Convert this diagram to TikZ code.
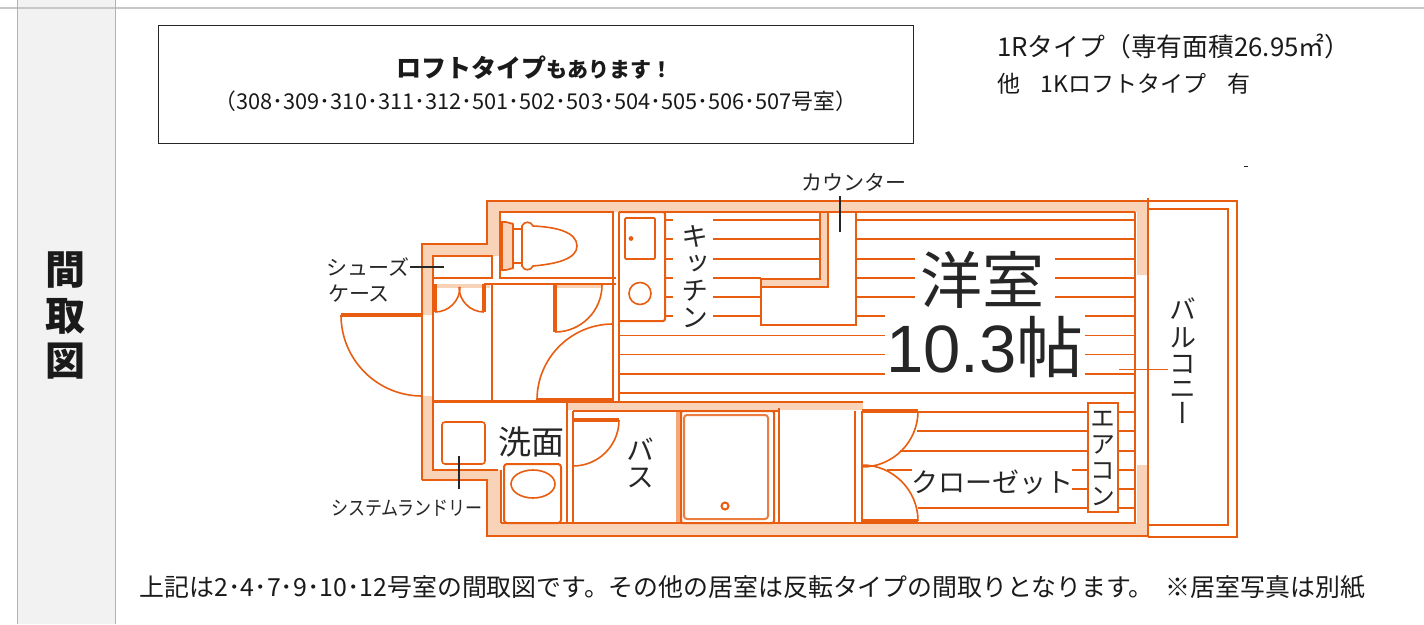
\documentclass[tikz,border=0pt]{standalone}
\usepackage{fontspec}
\setmainfont{Noto Sans CJK JP}
\newfontfamily\jpv[RawFeature={+vert}]{Noto Sans CJK JP}
\newfontfamily\latin{Liberation Sans}
\definecolor{wallc}{HTML}{E85D0F}
\definecolor{lightc}{HTML}{F9D3B8}
\definecolor{midc}{HTML}{F4A878}
\definecolor{ink}{HTML}{262626}
\definecolor{lab}{HTML}{1A1A1A}
\newcommand{\fs}[1]{\fontsize{#1pt}{#1pt}\selectfont}
\tikzset{
  thin line/.style={draw=wallc,line width=1.6pt},
  wall line/.style={draw=wallc,line width=2pt},
  thick line/.style={draw=wallc,line width=3.2pt},
  wall fill/.style={fill=lightc,draw=none},
  leader/.style={draw=ink,line width=1.1pt},
  txt/.style={inner sep=0pt,text=lab,anchor=base west},
  ctxt/.style={inner sep=0pt,text=lab,anchor=center},
  plan label/.style={inner sep=0pt,text=ink,anchor=center}
}
\begin{document}
\begin{tikzpicture}[x=1pt,y=-1pt]
\useasboundingbox (0,0) rectangle (1424,624);
% page frame
\fill[white] (0,0) rectangle (1424,624);
\fill[black!5] (17,0) rectangle (115,624);
\draw[black!22,line width=1.2pt] (0,8) -- (1424,8);
\draw[black!30,line width=1pt] (17,0) -- (17,624) (115,0) -- (115,624);
\node[ctxt,font=\bfseries\fs{40}] (t1) at (65,270) {間};
\node[ctxt,font=\bfseries\fs{40}] (t2) at (65,316) {取};
\node[ctxt,font=\bfseries\fs{40}] (t3) at (65,361) {図};
% notice box
\draw[black!85,line width=1pt] (158,25) rectangle (913,143);
\node[ctxt] (n1) at (534,68) {\bfseries\fs{25}ロフトタイプ\fs{21}もあります！};
\node[ctxt,font=\fs{21.8}] (n2) at (536,101) {（308･309･310･311･312･501･502･503･504･505･506･507号室）};
\node[txt,font=\fs{25.8}] (r1) at (997,56) {1Rタイプ（専有面積26.95㎡）};
\node[txt,font=\fs{23}] (r2) at (997,92) {他\hspace{.9em}1Kロフトタイプ\hspace{.9em}有};
\node[ctxt,font=\fs{24.9}] (b1) at (752.5,587) {上記は2･4･7･9･10･12号室の間取図です。その他の居室は反転タイプの間取りとなります。\hspace{.5em}※居室写真は別紙};
\draw[ink,line width=1pt] (1244,166) -- (1248,166);
% light wall fills
\path[wall fill] (422,244) -- (487,244) -- (487,201) -- (1148,201) -- (1148,275) -- (1137,275) -- (1137,212) -- (500,212) -- (500,256) -- (433,256) -- (433,315) -- (422,315) -- cycle;
\path[wall fill] (422,396) -- (433,396) -- (433,470) -- (501,470) -- (501,523) -- (1137,523) -- (1137,465) -- (1148,465) -- (1148,536) -- (487,536) -- (487,480) -- (422,480) -- cycle;
\path[wall fill] (567,402) rectangle (863,410);
\path[wall fill] (820,212) rectangle (828,287);
\path[wall fill] (761,280) rectangle (828,287);
\path[wall fill] (503,222) rectangle (513,270);
\path[fill=midc] (676,411) rectangle (681,523);
\path[wall fill] (433,284) rectangle (490,288);
\path[wall fill] (555,284) rectangle (602,288);
% outer walls
\draw[wall line] (422,480) -- (422,244) -- (487,244) -- (487,201) -- (1148,201);
\draw[wall line] (422,480) -- (487,480) -- (487,536) -- (1148,536);
\draw[wall line] (1148,198) -- (1148,536);
% inner walls
\draw[wall line] (433,315) -- (433,256) -- (492,256) -- (492,278) -- (433,278);
\draw[wall line] (500,278) rectangle (613,212);
\draw[wall line] (613,278) -- (616,278);
\draw[wall line] (619,212) -- (1135,212);
\draw[wall line] (1135,212) -- (1135,523) -- (501,523);
\draw[wall line] (484,284) -- (616,284);
\draw[wall line] (613,278) -- (613,401);
\draw[wall line] (619,212) -- (619,402);
\draw[wall line] (433,284) -- (433,401) -- (613,401);
\draw[wall line] (492,284) -- (492,401);
\draw[wall line] (433,402) -- (433,470) -- (498,470);
\draw[wall line] (501,470) -- (501,523);
\draw[wall line] (433,402) -- (567,402) -- (567,523);
\draw[wall line] (573,411) -- (573,523);
\draw[wall line] (573,411) -- (779,411);
\draw[wall line] (567,402) -- (863,402);
% doors
\draw[thick line] (341,315) -- (422,315);
\draw[thin line] (341,315) arc[start angle=180,end angle=90,radius=81];
\draw[thick line] (435,284) -- (435,312);
\draw[thick line] (484,284) -- (484,312);
\draw[thin line] (435,312) arc[start angle=90,end angle=0,radius=25];
\draw[thin line] (484,312) arc[start angle=90,end angle=180,radius=25];
\draw[thick line] (555,284) -- (555,332);
\draw[thin line] (555,332) arc[start angle=90,end angle=0,radius=47];
\draw[thick line] (537,400) -- (613,400);
\draw[thin line] (537,400) arc[start angle=180,end angle=270,radius=76];
\draw[thick line] (573,420) -- (619,420);
\draw[thin line] (619,420) arc[start angle=0,end angle=90,radius=46];
\draw[thick line] (862,411) -- (918,411);
\draw[draw=wallc,line width=4pt] (862,521) -- (918,521);
\draw[thin line] (918,411) arc[start angle=0,end angle=90,radius=56];
\draw[thin line] (918,521) arc[start angle=0,end angle=-90,radius=56];
\draw[wall line] (862,411) -- (862,523);
\draw[wall line] (855,411) -- (855,523);
\draw[wall line] (779,408) -- (779,523);
% toilet
\draw[thin line,fill=lightc] (513,229) -- (513,224) to[out=180,in=0] (506,222) -- (502,222) -- (502,270) -- (506,270) to[out=0,in=180] (513,268) -- cycle;
\draw[thin line] (513,229) -- (522,229) (513,263) -- (522,263);
\draw[thin line] (522,226) .. controls (524,221) and (531,221) .. (533,226) .. controls (556,227) and (577,232) .. (577,246) .. controls (577,259) and (556,264) .. (533,266) .. controls (531,271) and (524,271) .. (522,266) -- cycle;
% kitchen unit
\draw[wall line,rounded corners=2pt] (619,212) -- (665,212) -- (665,321) -- (619,321);
\draw[thin line,rounded corners=1pt] (625,218) rectangle (655,259);
\fill[wallc] (631,238.5) circle (2.4);
\draw[thin line] (640,293.5) circle (11);
% counter
\draw[wall line] (820,212) -- (820,279) -- (761,279) -- (761,325) -- (856,325) -- (856,212);
\draw[wall line] (828,212) -- (828,287) -- (761,287);
% floor hatch upper
\foreach \y in {220,239.2,258.7,278,297.2,316.2} {\draw[thin line] (665,\y) -- (673,\y);}
\foreach \y in {220,239.2,258.7} {\draw[thin line] (713,\y) -- (820,\y);}
\foreach \y in {278,297.2,316.2} {\draw[thin line] (713,\y) -- (761,\y);}
\foreach \y in {220,239.2} {\draw[thin line] (856,\y) -- (1135,\y);}
\foreach \y in {258.7,278,297.2} {\draw[thin line] (856,\y) -- (915,\y) (1055,\y) -- (1135,\y);}
\draw[thin line] (856,316.2) -- (885,316.2) (1085,316.2) -- (1135,316.2);
\foreach \y in {335.5,354.6,373.7} {\draw[thin line] (619,\y) -- (885,\y) (1085,\y) -- (1135,\y);}
\draw[thin line] (619,393) -- (1135,393);
% floor hatch lower
\foreach \y in {412,431.2,451} {\draw[thin line] (1088,\y) -- (1135,\y);}
\draw[thin line] (918,412) -- (1088,412) (917,431.2) -- (1088,431.2) (900,451) -- (1088,451);
\draw[thin line] (887,470) -- (912,470) (1072,470) -- (1088,470) (1118,470) -- (1135,470);
\draw[thin line] (1072,489) -- (1088,489) (1118,489) -- (1135,489);
\draw[thin line] (918,508) -- (1135,508);
% aircon
\draw[wall line,fill=white] (1088,403) rectangle (1118,512);
% balcony
\draw[thin line] (1148,201) -- (1237,201) -- (1237,537) -- (1148,537);
\draw[wall line] (1148,209) -- (1228,209) -- (1228,525) -- (1148,525);
% sink & washer
\draw[wall line,rounded corners=3pt] (504,464) rectangle (561,523);
\draw[thin line] (533,484) ellipse (22 and 14);
\draw[thin line,rounded corners=3pt] (442,422) rectangle (485,464);
% bath tub
\draw[wall line,rounded corners=2pt] (681,411) rectangle (774,523);
\draw[draw=wallc!80,line width=2pt,rounded corners=3pt] (684,415) rectangle (768,519);
\draw[draw=wallc,line width=2pt] (725,506) circle (3.5);
% labels
\node[plan label,font=\fs{21}] (sh1) at (368,267) {シューズ};
\node[plan label,font=\fs{21}] (sh2) at (359,294) {ケース};
\coordinate (sh1e) at (444,267);
\draw[leader] (sh1) ++(42,0) -- (sh1e);
\node[plan label,font=\fs{21}] (ka) at (854,182) {カウンター};
\coordinate (ka1) at (840,232);
\draw[leader] (840,196) -- (ka1);
\node[plan label,font=\fs{20},xscale=.85] (sy) at (407,508) {システムランドリー};
\coordinate (sy1) at (459,456);
\draw[leader] (459,489) -- (sy1);
\node[plan label,font=\fs{33}] (se) at (531,442) {洗面};
\node[plan label,font=\jpv\fs{28}] (v1) at (640,449) {バ};
\node[plan label,font=\jpv\fs{28}] (v2) at (640,478) {ス};
\node[plan label,font=\jpv\fs{27}] (k1) at (695,236) {キ};
\node[plan label,font=\jpv\fs{27}] (k2) at (695,264) {ッ};
\node[plan label,font=\jpv\fs{27}] (k3) at (695,291) {チ};
\node[plan label,font=\jpv\fs{27}] (k4) at (695,318) {ン};
\node[plan label,font=\fs{62}] (yo) at (982,280) {洋室};
\node[plan label] (jo) at (985,347) {\latin\fs{67}10.3\rmfamily 帖};
\node[plan label,font=\fs{27}] (cl) at (992,482) {クローゼット};
\node[plan label,font=\jpv\fs{25}] (e1) at (1103,419) {エ};
\node[plan label,font=\jpv\fs{25}] (e2) at (1103,445) {ア};
\node[plan label,font=\jpv\fs{25}] (e3) at (1103,471) {コ};
\node[plan label,font=\jpv\fs{25}] (e4) at (1103,497) {ン};
\node[plan label,font=\jpv\fs{27}] (b1v) at (1183,309) {バ};
\node[plan label,font=\jpv\fs{27}] (b2v) at (1183,338) {ル};
\node[plan label,font=\jpv\fs{27}] (b3v) at (1183,364) {コ};
\node[plan label,font=\jpv\fs{27}] (b4v) at (1183,390) {ニ};
\node[plan label,font=\jpv\fs{27}] (b5v) at (1183,413) {ー};
\coordinate (bal0) at (1119,369.5);
\draw[thin line] (bal0) -- (1168,369.5);
\end{tikzpicture}
\end{document}
